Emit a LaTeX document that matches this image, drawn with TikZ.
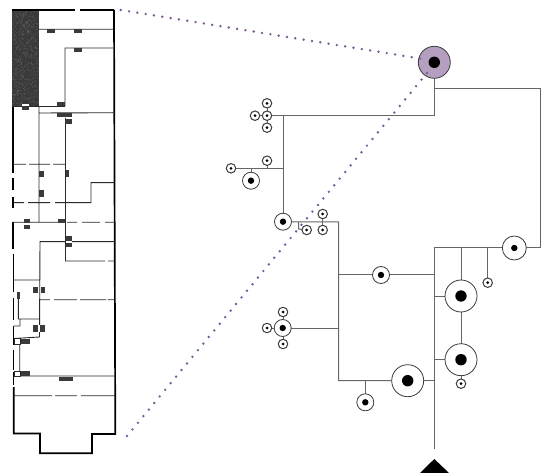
\documentclass[tikz,border=0pt]{standalone}
\usetikzlibrary{backgrounds,calc}
\definecolor{conn}{HTML}{666666}
\definecolor{ring}{HTML}{3C3C3C}
\definecolor{rootfill}{HTML}{B59FC0}
\definecolor{dotpurple}{HTML}{7B5A9B}
\definecolor{ink}{HTML}{2A2A2A}
\definecolor{dark}{HTML}{3A3A3A}
\tikzset{
  bub/.style={circle,draw=ring,line width=0.8pt,fill=white,inner sep=0pt,outer sep=0pt},
  bigb/.style={bub,minimum size=32pt,path picture={\fill[black] (path picture bounding box.center) circle (5.7pt);}},
  midb/.style={bub,minimum size=17pt,path picture={\fill[black] (path picture bounding box.center) circle (3.2pt);}},
  medb/.style={bub,minimum size=24pt,path picture={\fill[black] (path picture bounding box.center) circle (3.2pt);}},
  smallb/.style={bub,line width=1pt,minimum size=9.5pt,path picture={\fill[black] (path picture bounding box.center) circle (1.5pt);}},
  link/.style={draw=conn,line width=1pt},
  wall/.style={draw=black,line width=1.7pt},
  inner wall/.style={draw=ink,line width=0.9pt},
  purpledot/.style={fill=dotpurple}
}
\begin{document}
\begin{tikzpicture}[x=1pt,y=-1pt]
\useasboundingbox (0,0) rectangle (541,473);

% ---------- floor plan ----------
\fill[dark] (12,10) rectangle (39,107);
\pgfmathsetseed{7}
\foreach \i in {1,...,500}{
  \pgfmathsetmacro{\xx}{12.5+26*rnd}
  \pgfmathsetmacro{\yy}{10.5+96*rnd}
  \fill[gray!75!black] (\xx,\yy) circle (0.5pt);
}
% outer walls
\path[wall] (12,10) -- (75,10) (80,10) -- (114,10);
\path[wall] (114,10) -- (115.3,434) -- (92,434) -- (92,453.3) -- (40,453.3) -- (40,433.5) -- (13.8,433.5) -- (13.8,387);
\path[wall] (13,107) -- (13,172.7) (13,178) -- (13,190) (13,196.7) -- (13,208) (13,221.7) -- (13,249)
  (13.5,254) -- (13.5,292) (13.5,298) -- (13.5,320) (13.5,326) -- (13.5,345) (13.5,350) -- (13.5,370) (13.5,372) -- (13.5,385);
% inner walls
\path[inner wall] (39,29.3) -- (113,29.3)
  (65,106) -- (65,48) -- (113,48)
  (13,106.5) -- (65,106.5)
  (39,107) -- (39,221.7)
  (39,113) -- (113,112.7)
  (65.5,118) -- (65.5,261) -- (105,261) (108,261) -- (115,261)
  (13,164.3) -- (26,164.3) (29,164.3) -- (50,164.3) (53,164.3) -- (65,164.3)
  (13,202.7) -- (24,202.7) (28,202.7) -- (50,202.7) (55,202.7) -- (91,202.7) -- (91,182.7) -- (114,182.7)
  (13,222.3) -- (24,222.3) (30,222.3) -- (65,222.3) (67,222.3) -- (77,222.3) (82,222.3) -- (100,222.3) (105,222.3) -- (115,222.3)
  (115,241.7) -- (40,241.7) -- (39.5,337) -- (14,338.5)
  (14,280) -- (40,280)
  (40,299.7) -- (50,299.7) (54,299.7) -- (77,299.7) (80,299.7) -- (106,299.7) (107.5,299.7) -- (115,299.7)
  (18.3,293) -- (18.3,319) -- (40,319)
  (13.5,326) -- (20,326) -- (20,319)
  (19.7,338) -- (19.7,376)
  (14,376) -- (115,376)
  (14,395.7) -- (52,395.7) (55,395.7) -- (77,395.7) (81,395.7) -- (115,395.7);
% small tags
\foreach \a/\b/\c/\d in {47/29/55/33, 74/29/82/33, 74/48/82/52.3, 57/102/65/106, 22/100/29/110,
  57.3/113.3/72.3/116.7, 65/119.3/72.3/124, 39/170.7/43.5/176.7, 39/190/43.5/196.7, 65.7/170/69.3/176.7,
  24/219/30/229, 57.7/219/65/222.7, 65.7/236/72.3/247.3, 33/286.7/38.3/293.3, 40.7/286.7/45/293.3,
  17.3/292.3/20/299, 33/325/45/332, 20/338.5/29.5/343.5, 20/371/29.5/376, 58.7/376.7/73/381}
  {\fill[dark] (\a,\b) rectangle (\c,\d);}
% white stripes in split tags
\foreach \a/\b/\c/\d in {22/104.5/29/106, 24/223.3/30/225, 65.7/241/72.3/242.7, 38/325/40/332}
  {\fill[white] (\a,\b) rectangle (\c,\d);}
\draw[inner wall,fill=white] (14.5,338.5) rectangle (20,344);
\draw[inner wall,fill=white] (14.5,371) rectangle (20,376);

% ---------- tree nodes ----------
\node[bigb,fill=rootfill] (root) at (434.3,62.3) {};
\node[medb] (n1) at (514.3,248) {};
\node[bigb] (n2) at (461,296) {};
\node[bigb] (n3) at (461,359.7) {};
\node[bigb] (n4) at (407.7,380.7) {};
\node[midb] (n5) at (381,275) {};
\node[midb] (n6) at (365.3,402.3) {};
\node[midb] (n7) at (282.7,328) {};
\node[midb] (n8) at (283,221.7) {};
\node[midb] (n9) at (251,180.7) {};
\node[smallb] (s1) at (487.7,282.7) {};
\node[smallb] (s2) at (461,383.7) {};
\node[smallb] (s3) at (283,312) {};
\node[smallb] (s4) at (283,344) {};
\node[smallb] (s5) at (267,328) {};
\node[smallb] (s6) at (267,115.7) {};
\node[smallb] (s7) at (267,103.3) {};
\node[smallb] (s8) at (267,127.7) {};
\node[smallb] (s9) at (255,115.7) {};
\node[smallb] (s10) at (231,168.3) {};
\node[smallb] (s11) at (267,160.7) {};
\node[smallb] (s12) at (322.7,214) {};
\node[smallb] (s13) at (322.7,230) {};
\node[smallb] (s14) at (306.7,230) {};

\coordinate (tr) at (540.5,89);
\coordinate (tr2) at (540.5,248);
\coordinate (rb) at (434.3,115.7);
\coordinate (rl) at (283,115.7);
\coordinate (ra) at (434.3,89);
\coordinate (spine) at (434.3,248);
\coordinate (spineend) at (434.3,449);
\coordinate (j461) at (461,248);
\coordinate (j488) at (487.7,248);
\coordinate (bv) at (338.7,222);
\coordinate (bb) at (338.7,380.7);
\coordinate (j168) at (283,168.3);
\coordinate (stepa) at (298.7,222);
\coordinate (stepb) at (298.7,229);

\begin{scope}[on background layer]
  \path[link] (root) -- (rb) -- (rl) -- (n8);
  \path[link] (ra) -- (tr) -- (tr2) -- (n1) -- (spine) -- (spineend);
  \path[link] (j461) -- (n2) -- (n3) -- (s2);
  \path[link] (j488) -- (s1);
  \path[link] (n2) -- (n2 -| spine);
  \path[link] (n3) -- (n3 -| spine);
  \path[link] (n4) -- (n4 -| spine);
  \path[link] (n8) -- (bv) -- (bb) -- (n4);
  \path[link] (n5 -| bv) -- (n5 -| spine);
  \path[link] (n7) -- (n7 -| bv);
  \path[link] (n6) -- (n6 |- bb);
  \path[link] (s3) -- (s4);
  \path[link] (s5) -- (n7);
  \path[link] (s9) -- (rl);
  \path[link] (s7) -- (s8);
  \path[link] (s10) -- (j168);
  \path[link] (s11) -- (s11 |- j168);
  \path[link] (n9) -- (n9 |- j168);
  \path[link] (s12) -- (s13);
  \path[link] (stepa) -- (stepb) -- (s14);
\end{scope}

% triangle
\fill[black] (434.3,459) -- (449,473) -- (420,473) -- cycle;

% dotted guide lines
\coordinate (d1a) at (120.7,10);
\coordinate (d1b) at (420,58.5);
\coordinate (d2a) at (127,436);
\coordinate (d2b) at (427,73);
\foreach \k in {0,...,36}
  \fill[purpledot] ($(d1a)!\k/36!(d1b)$) circle (1.35pt);
\foreach \k in {0,...,55}
  \fill[purpledot] ($(d2a)!\k/55!(d2b)$) circle (1.35pt);
\end{tikzpicture}
\end{document}
